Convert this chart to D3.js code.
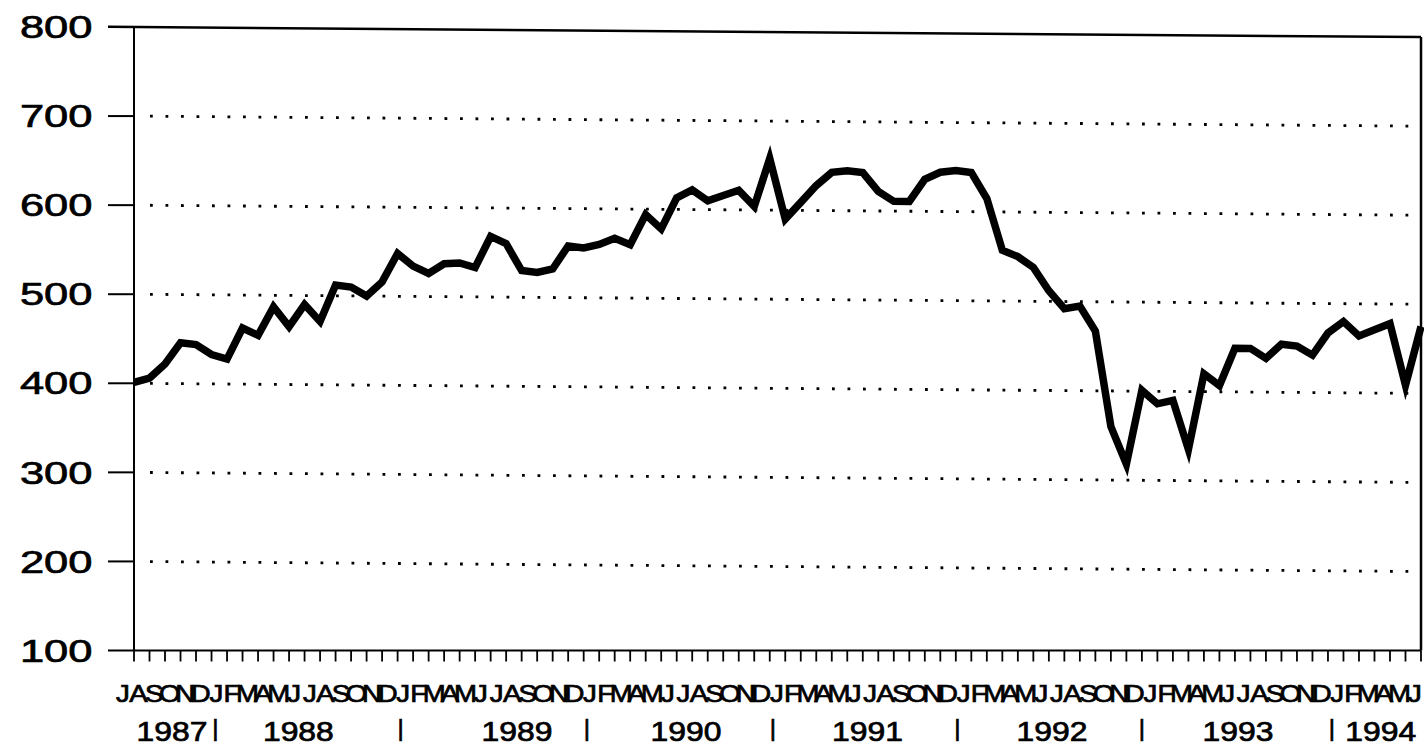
<!DOCTYPE html>
<html lang="en">
<head>
<meta charset="utf-8">
<script src="https://cdn.jsdelivr.net/npm/d3@7"></script>
<style>
    body { margin: 0; background: #fff; }
    text { font-family: "Liberation Sans", Arial, sans-serif; fill: #000; stroke: #000; stroke-width: 0.7px; }
</style>
</head>
<body>
<div id="chart"></div>
<script>

    // monthly values, July 1987 to June 1994
    var values = [
        401, 406, 422, 446, 444, 433,                          // 1987 J-D
        428, 463, 455, 487, 465, 490, 471, 512, 510, 500, 516, 548,   // 1988
        534, 526, 537, 538, 533, 568, 560, 530, 528, 532, 558, 556,   // 1989
        560, 567, 560, 594, 578, 613, 622, 610, 616, 622, 604, 658,   // 1990
        590, 609, 628, 643, 645, 643, 622, 611, 611, 636, 644, 646,   // 1991
        644, 615, 557, 550, 538, 512, 492, 495, 467, 360, 318, 401,   // 1992
        386, 390, 335, 420, 407, 449, 449, 438, 454, 452, 442, 467,   // 1993
        480, 464, 471, 478, 409, 475                            // 1994 J-J
    ];

    var monthInitials = ["J", "F", "M", "A", "M", "J", "J", "A", "S", "O", "N", "D"];
    var firstMonth = 6; // series starts in July

    var yTicks = [100, 200, 300, 400, 500, 600, 700, 800];
    var gridTicks = [200, 300, 400, 500, 600, 700];

    var years = ["1987", "1988", "1989", "1990", "1991", "1992", "1993", "1994"];
    var yearAt = [2.45, 10.6, 24.7, 35.6, 47.3, 59.2, 71.2, 80.4];      // month index under each year label
    var dividerAt = [5.25, 17.2, 29.2, 41.2, 53.1, 65.0, 77.25];        // month index of the "|" marks

    var width = 1424, height = 748;

    var svg = d3.select("#chart")
        .append("svg")
        .attr("width", width)
        .attr("height", height);

    var x = d3.scaleLinear()
        .domain([0, values.length - 1])
        .range([134, 1421]);

    var y = d3.scaleLinear()
        .domain([100, 800])
        .range([650.5, 27]);

    // month letters sit a little left of their ticks at the start of the axis
    var letterX = d3.scaleLinear()
        .domain([0, values.length - 1])
        .range([x(0) - 11, x(values.length - 1) - 6]);

    // the scanned original is slightly tilted: gridlines and curve drop to the right
    var tiltDeg = 0.45;
    var tilt = Math.tan(tiltDeg * Math.PI / 180);
    var plot = svg.append("g")
        .attr("transform", "translate(134,0) skewY(" + tiltDeg + ") translate(-134,0)");

    // dotted gridlines
    plot.selectAll(".grid")
        .data(gridTicks)
        .enter()
        .append("line")
        .attr("class", "grid")
        .attr("x1", 150)
        .attr("x2", x.range()[1])
        .attr("y1", d => y(d))
        .attr("y2", d => y(d))
        .attr("stroke", "#000")
        .attr("stroke-width", 2.8)
        .attr("stroke-dasharray", "2.8,12.7");

    // top border
    plot.append("line")
        .attr("x1", 108).attr("x2", x.range()[1])
        .attr("y1", y(800)).attr("y2", y(800))
        .attr("stroke", "#000")
        .attr("stroke-width", 2.5);

    // the series
    var line = d3.line()
        .x((d, i) => x(i))
        .y(d => y(d));

    plot.append("path")
        .datum(values)
        .attr("d", line)
        .attr("fill", "none")
        .attr("stroke", "#000")
        .attr("stroke-width", 7.5)
        .attr("stroke-linejoin", "miter")
        .attr("stroke-miterlimit", 10);

    // right border
    svg.append("line")
        .attr("x1", x.range()[1]).attr("x2", x.range()[1])
        .attr("y1", y(800) + tilt * (x.range()[1] - 134))
        .attr("y2", y(100))
        .attr("stroke", "#000")
        .attr("stroke-width", 2.5);

    // left axis with outward ticks
    svg.append("line")
        .attr("x1", 134).attr("x2", 134)
        .attr("y1", y(800)).attr("y2", y(100))
        .attr("stroke", "#000")
        .attr("stroke-width", 2);

    svg.selectAll(".ytick")
        .data(yTicks)
        .enter()
        .append("line")
        .attr("class", "ytick")
        .attr("x1", 108).attr("x2", 134)
        .attr("y1", d => y(d)).attr("y2", d => y(d))
        .attr("stroke", "#000")
        .attr("stroke-width", 2);

    svg.selectAll(".ylabel")
        .data(yTicks)
        .enter()
        .append("text")
        .attr("class", "ylabel")
        .attr("transform", d => "translate(92.5," + y(d) + ") scale(1.36,1)")
        .attr("dy", "0.35em")
        .attr("text-anchor", "end")
        .style("font-size", "32px")
        .text(d => d);

    // bottom axis, one tick per month
    svg.append("line")
        .attr("x1", 134).attr("x2", x.range()[1])
        .attr("y1", y(100)).attr("y2", y(100))
        .attr("stroke", "#000")
        .attr("stroke-width", 2);

    svg.selectAll(".xtick")
        .data(values)
        .enter()
        .append("line")
        .attr("class", "xtick")
        .attr("x1", (d, i) => x(i)).attr("x2", (d, i) => x(i))
        .attr("y1", y(100)).attr("y2", y(100) + 11)
        .attr("stroke", "#000")
        .attr("stroke-width", 1.8);

    // month initials, crowded together as in the original
    svg.selectAll(".month")
        .data(values)
        .enter()
        .append("text")
        .attr("class", "month")
        .attr("transform", (d, i) => "translate(" + letterX(i) + ",702) scale(1.15,1)")
        .attr("text-anchor", "middle")
        .style("font-size", "24px")
        .text((d, i) => monthInitials[(firstMonth + i) % 12]);

    svg.selectAll(".year")
        .data(years)
        .enter()
        .append("text")
        .attr("class", "year")
        .attr("transform", (d, i) => "translate(" + x(yearAt[i]) + ",740.5) scale(1.18,1)")
        .attr("text-anchor", "middle")
        .style("font-size", "27px")
        .text(d => d);

    svg.selectAll(".divider")
        .data(dividerAt)
        .enter()
        .append("text")
        .attr("class", "divider")
        .attr("x", d => x(d))
        .attr("y", 736)
        .attr("text-anchor", "middle")
        .style("font-size", "24px")
        .text("|");

</script>
</body>
</html>
